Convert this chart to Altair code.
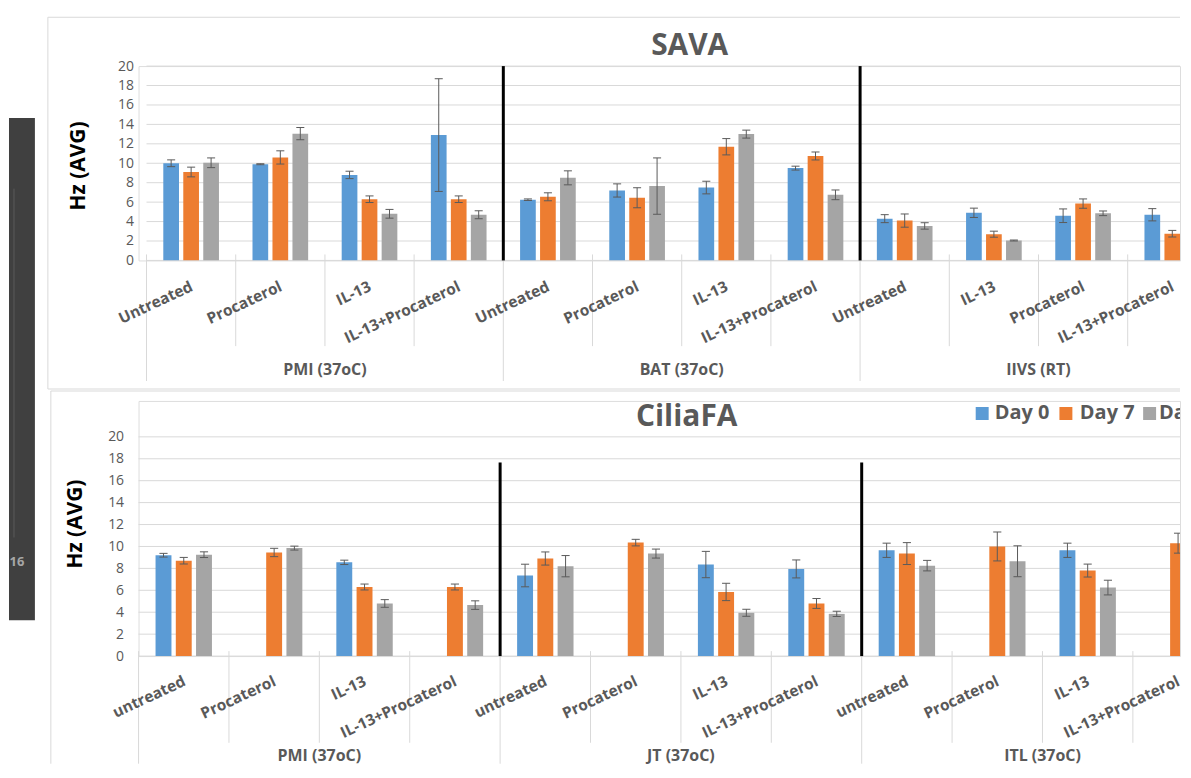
import altair as alt
import pandas as pd

# ---------------- data ----------------
days = ["Day 0", "Day 7", "Day 14"]
colors = ["#5B9BD5", "#ED7D31", "#A5A5A5"]
y_ticks = [0, 2, 4, 6, 8, 10, 12, 14, 16, 18, 20]

sava_groups = ["PMI (37oC)", "BAT (37oC)", "IIVS (RT)"]
sava_treatments = ["Untreated", "Procaterol", "IL-13", "IL-13+Procaterol",
                   "Untreated", "Procaterol", "IL-13", "IL-13+Procaterol",
                   "Untreated", "IL-13", "Procaterol", "IL-13+Procaterol"]
sava_day0 = [10.0, 9.9, 8.8, 12.9, 6.25, 7.2, 7.5, 9.5, 4.3, 4.9, 4.6, 4.7]
sava_day0_err = [0.35, 0.05, 0.38, 5.8, 0.08, 0.68, 0.65, 0.2, 0.41, 0.48, 0.7, 0.63]
sava_day7 = [9.1, 10.6, 6.3, 6.3, 6.55, 6.45, 11.7, 10.75, 4.1, 2.7, 5.85, 2.75]
sava_day7_err = [0.5, 0.68, 0.34, 0.34, 0.41, 1.03, 0.84, 0.41, 0.68, 0.31, 0.48, 0.34]
sava_day14 = [10.05, 13.05, 4.8, 4.7, 8.5, 7.65, 13.0, 6.75, 3.55, 2.05, 4.85, 2.1]
sava_day14_err = [0.5, 0.63, 0.45, 0.41, 0.72, 2.9, 0.41, 0.5, 0.33, 0.05, 0.24, 0.3]

cilia_groups = ["PMI (37oC)", "JT (37oC)", "ITL (37oC)"]
cilia_treatments = ["untreated", "Procaterol", "IL-13", "IL-13+Procaterol",
                    "untreated", "Procaterol", "IL-13", "IL-13+Procaterol",
                    "untreated", "Procaterol", "IL-13", "IL-13+Procaterol"]
cilia_day0 = [9.2, None, 8.55, None, 7.35, None, 8.35, 7.95, 9.65, None, 9.65, None]
cilia_day0_err = [0.17, None, 0.2, None, 1.03, None, 1.2, 0.82, 0.65, None, 0.65, None]
cilia_day7 = [8.7, 9.45, 6.3, 6.3, 8.9, 10.35, 5.85, 4.8, 9.35, 10.0, 7.8, 10.3]
cilia_day7_err = [0.3, 0.38, 0.27, 0.27, 0.6, 0.3, 0.79, 0.45, 1.0, 1.32, 0.59, 0.91]
cilia_day14 = [9.25, 9.85, 4.8, 4.65, 8.2, 9.35, 3.95, 3.85, 8.25, 8.65, 6.25, None]
cilia_day14_err = [0.26, 0.18, 0.35, 0.39, 0.97, 0.41, 0.32, 0.24, 0.48, 1.41, 0.67, None]

# ---------------- styling constants ----------------
PITCH = 0.224   # offset between day bars inside a category (category units)
HALF = 0.088    # half bar width
CAP = 0.045     # half error-bar cap width
GRID = "#D9D9D9"
TXT = "#595959"
FONT = "Open Sans"
W = 1045


def bar_frame(vals, errs):
    rows = []
    for ci in range(12):
        for di in range(3):
            v = vals[di][ci]
            e = errs[di][ci]
            if v is None:
                continue
            xc = ci + 0.5 + (di - 1) * PITCH
            rows.append(dict(day=days[di], val=v, xc=xc, x0=xc - HALF, x1=xc + HALF,
                             lo=v - e, hi=v + e, cl=xc - CAP, cr=xc + CAP))
    return pd.DataFrame(rows)


def panel(cfg):
    xs, xe = cfg["xdom"]
    ydom = cfg["ydom"]

    def X(f):
        return alt.X(f, type="quantitative",
                     scale=alt.Scale(domain=[xs, xe], nice=False, zero=False), axis=None)

    def Y(f):
        return alt.Y(f, type="quantitative",
                     scale=alt.Scale(domain=ydom, nice=False, zero=True),
                     axis=alt.Axis(values=y_ticks, grid=False, domain=False, ticks=False,
                                   labelColor=TXT, labelFontSize=14, labelFont=FONT,
                                   labelPadding=cfg["lpad"], title="Hz (AVG)",
                                   titleFont=FONT, titleFontSize=21, titleFontWeight="bold",
                                   titleColor="#000000", titleX=cfg["tx"], titleY=cfg["ty"],
                                   titleAngle=270, titleAlign="center", titleBaseline="middle"))

    one = pd.DataFrame({"a": [0]})
    layers = []

    # panel borders (light gray frame of the pasted chart)
    for (x1v, x2v, y1v, y2v) in cfg["borders"]:
        if x2v is None:
            layers.append(alt.Chart(one).mark_rule(color=GRID, strokeWidth=1).encode(
                x=alt.value(x1v), y=alt.value(y1v), y2=alt.value(y2v)))
        else:
            layers.append(alt.Chart(one).mark_rule(color=GRID, strokeWidth=1).encode(
                x=alt.value(x1v), x2=alt.value(x2v), y=alt.value(y1v)))

    # gridlines
    gdf = pd.DataFrame({"tick": y_ticks, "g0": [0.0] * len(y_ticks), "g1": [xe] * len(y_ticks)})
    layers.append(alt.Chart(gdf).mark_rule(color=GRID, strokeWidth=1).encode(
        x=X("g0"), x2="g1", y=Y("tick")))

    # category separators
    bounds = [b for b in range(0, 13) if b < xe]
    sdf = pd.DataFrame({"b": bounds, "long": [b % 4 == 0 for b in bounds]})
    layers.append(alt.Chart(sdf[~sdf["long"]]).mark_rule(color=GRID, strokeWidth=1).encode(
        x=X("b"), y=alt.value(cfg["sep_top"]), y2=alt.value(cfg["sep_short"])))
    layers.append(alt.Chart(sdf[sdf["long"]]).mark_rule(color=GRID, strokeWidth=1).encode(
        x=X("b"), y=alt.value(cfg["sep_top"]), y2=alt.value(cfg["sep_long"])))

    # bars
    bdf = cfg["bars"]
    layers.append(alt.Chart(bdf).mark_rect(clip=True).encode(
        x=X("x0"), x2="x1", y=Y("val"), y2=alt.datum(0),
        color=alt.Color("day:N", scale=alt.Scale(domain=days, range=colors), legend=None)))
    # error bars
    layers.append(alt.Chart(bdf).mark_rule(clip=True, color="#5A5A5A", strokeWidth=1).encode(
        x=X("xc"), y=Y("lo"), y2="hi"))
    layers.append(alt.Chart(bdf).mark_rule(clip=True, color="#5A5A5A", strokeWidth=1).encode(
        x=X("cl"), x2="cr", y=Y("hi")))
    layers.append(alt.Chart(bdf).mark_rule(clip=True, color="#5A5A5A", strokeWidth=1).encode(
        x=X("cl"), x2="cr", y=Y("lo")))

    # category labels
    cdf = pd.DataFrame({"c": [i + 0.5 for i in range(12)], "t": cfg["treatments"]})
    layers.append(alt.Chart(cdf).mark_text(angle=335, align="right", baseline="top", dx=-2.5,
                                           font=FONT, fontSize=15.5, fontWeight="bold",
                                           color=TXT).encode(
        x=X("c"), y=alt.value(cfg["cat_y"]), text="t:N"))
    # group labels
    gl = pd.DataFrame({"c": [2, 6, 10], "t": cfg["groups"]})
    layers.append(alt.Chart(gl).mark_text(align="center", baseline="middle", font=FONT,
                                          fontSize=16, fontWeight="bold", color=TXT).encode(
        x=X("c"), y=alt.value(cfg["grp_y"]), text="t:N"))

    # hand-drawn black dividers
    ddf = pd.DataFrame({"b": [4, 8], "y0": [0, 0], "y1": [cfg["div_top"]] * 2})
    layers.append(alt.Chart(ddf).mark_rule(color="#000000", strokeWidth=3).encode(
        x=X("b"), y=Y("y0"), y2="y1"))

    # chart title
    tdf = pd.DataFrame({"t": [cfg["title"]]})
    layers.append(alt.Chart(tdf).mark_text(align="center", baseline="middle", font=FONT,
                                           fontSize=30, fontWeight="bold", color=TXT).encode(
        x=alt.value(cfg["title_x"]), y=alt.value(cfg["title_y"]), text="t:N"))

    layers.extend(cfg.get("extra", []))
    return alt.layer(*layers).properties(width=W, height=cfg["height"])


one = pd.DataFrame({"a": [0]})

# remnants of the slide behind (dark box on the left)
dark_box = [
    alt.Chart(one).mark_rect(color="#404040").encode(
        x=alt.value(-130), x2=alt.value(-104), y=alt.value(52), y2=alt.value(556)),
    alt.Chart(one).mark_rule(color="#5A5A5A", strokeWidth=1).encode(
        x=alt.value(-125), y=alt.value(123), y2=alt.value(473)),
    alt.Chart(pd.DataFrame({"t": ["16"]})).mark_text(
        font=FONT, fontSize=13, fontWeight="bold", color="#A6A6A6").encode(
        x=alt.value(-122), y=alt.value(498), text="t:N"),
]

# legend (custom, placed like the Excel legend)
legend_layers = []
leg_sq = [846.5, 930.5, 1014.5]
leg_tx = [859, 944.5, 1024]
for i in range(3):
    legend_layers.append(alt.Chart(one).mark_square(size=169, color=colors[i], opacity=1,
                                                    clip=True).encode(
        x=alt.value(leg_sq[i]), y=alt.value(12.5)))
    legend_layers.append(alt.Chart(pd.DataFrame({"t": [days[i]]})).mark_text(
        align="left", baseline="middle", font=FONT, fontSize=20, fontWeight="bold",
        color=TXT, clip=True).encode(x=alt.value(leg_tx[i]), y=alt.value(12.5), text="t:N"))

top_cfg = dict(
    xdom=(-0.0894, -0.0894 + W / 89.5), ydom=[0, 20], height=195,
    lpad=5, tx=-60, ty=99.7,
    borders=[(-91, None, -49, 324), (-91, W, -49, None), (-91, W, 324, None)],
    sep_top=189, sep_short=281, sep_long=316,
    bars=bar_frame([sava_day0, sava_day7, sava_day14],
                   [sava_day0_err, sava_day7_err, sava_day14_err]),
    treatments=sava_treatments, groups=sava_groups,
    cat_y=213, grp_y=305, div_top=20,
    title="SAVA", title_x=553, title_y=-20,
    extra=dark_box,
)

bot_cfg = dict(
    xdom=(0.0, W / 90.7), ydom=[0, 256 / 11.0], height=256,
    lpad=15, tx=-63, ty=123,
    borders=[(-88, None, -10, 364), (-88, W, -10, None)],
    sep_top=251, sep_short=343, sep_long=364,
    bars=bar_frame([cilia_day0, cilia_day7, cilia_day14],
                   [cilia_day0_err, cilia_day7_err, cilia_day14_err]),
    treatments=cilia_treatments, groups=cilia_groups,
    cat_y=273, grp_y=356, div_top=17.66,
    title="CiliaFA", title_x=550, title_y=16.5,
    extra=legend_layers,
)

chart = alt.vconcat(panel(top_cfg), panel(bot_cfg), spacing=141, bounds="flush").properties(
    padding={"left": 0, "top": 7, "right": 0, "bottom": 0}
).configure_view(strokeWidth=0).configure(background="white")

chart.save("out.html", embed_options={"renderer": "svg", "actions": False})
